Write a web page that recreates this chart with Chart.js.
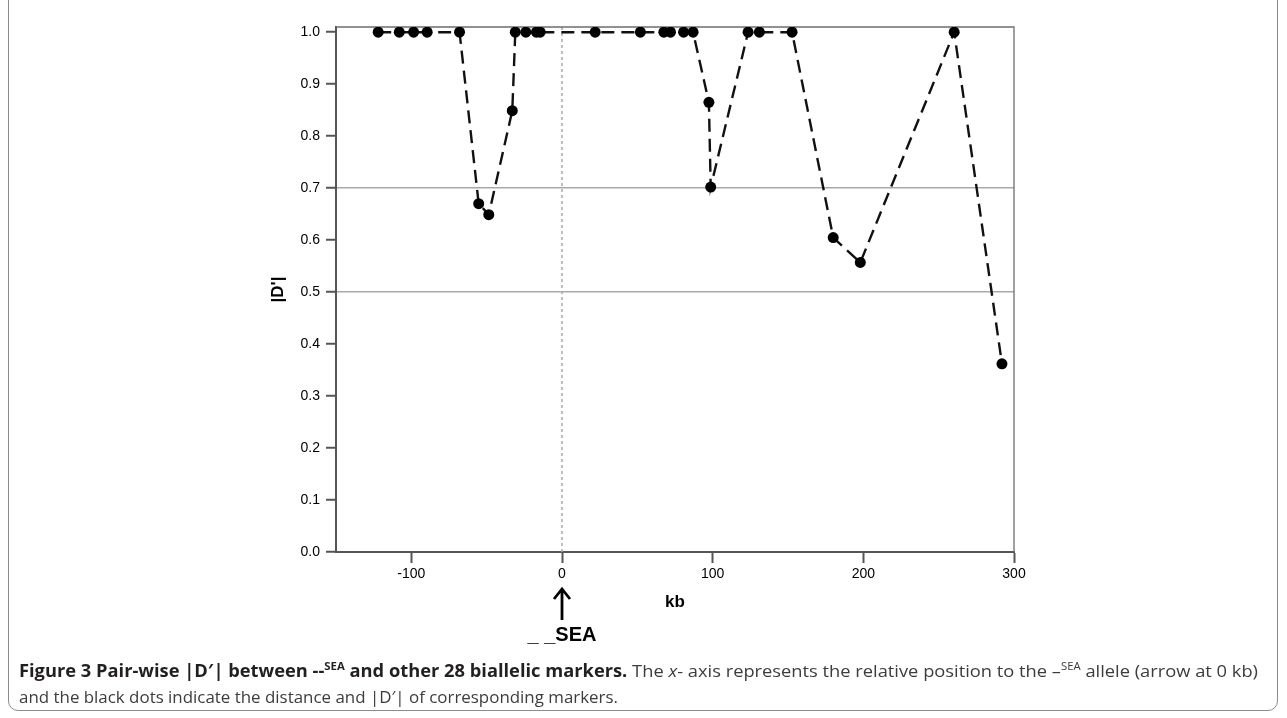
<!DOCTYPE html>
<html>
<head>
<meta charset="utf-8">
<script src="https://cdn.jsdelivr.net/npm/chart.js@4.4.1/dist/chart.umd.min.js"></script>
<style>
  html, body { margin: 0; padding: 0; background: #fff; }
  body { width: 1287px; height: 718px; position: relative; overflow: hidden; }
  #wrap { position: absolute; left: 0; top: 0; width: 1287px; height: 718px; }
  #frame { position: absolute; left: 8px; top: -12px; width: 1270px; height: 723px;
           border: 1px solid #8c8c8c; border-radius: 10px; box-sizing: border-box; }
  .cap { position: absolute; left: 19px; white-space: nowrap; font-family: "Open Sans", sans-serif;
         font-size: 17px; color: #3c3c3c; transform-origin: 0 0; }
  .cap b { color: #231f20; }
  .cap sup { font-size: 62%; line-height: 0; vertical-align: 0.65em; }
</style>
</head>
<body>
<div id="frame"></div>
<div id="wrap"><canvas id="ldChart" width="1287" height="718"></canvas></div>
<div class="cap" id="cap1" style="top:659px"><b>Figure 3 Pair-wise |D′| between --<sup>SEA</sup> and other 28 biallelic markers.</b> The <i>x</i>- axis represents the relative position to the –<sup>SEA</sup> allele (arrow at 0 kb)</div>
<div class="cap" id="cap2" style="top:685px">and the black dots indicate the distance and |D′| of corresponding markers.</div>
<script>
// posiciones (kb) y |D'| de los 27 marcadores visibles
const positions = [-122, -108, -98.5, -89.5, -68, -55.3, -48.6, -33, -31, -24, -17, -14.5,
                   22, 52, 67.6, 72, 80.7, 87, 97.5, 98.7, 123.5, 131, 152.7, 180, 198, 260.3, 292];
const dPrime = [1, 1, 1, 1, 1, 0.67, 0.649, 0.849, 1, 1, 1, 1,
                1, 1, 1, 1, 1, 1, 0.865, 0.702, 1, 1, 1, 0.605, 0.557, 1, 0.362];

const xTicks = [-100, 0, 100, 200, 300];
const yTicks = [0.0, 0.1, 0.2, 0.3, 0.4, 0.5, 0.6, 0.7, 0.8, 0.9, 1.0];
const refLines = [0.5, 0.7];   // lineas grises horizontales
const alleleAt = 0;            // posicion de la flecha --SEA

const points = positions.map((x, i) => ({ x: x, y: dPrime[i] }));

// marco del area, linea punteada en 0 y flecha con la etiqueta
const extras = {
    id: 'extras',
    beforeDatasetsDraw(chart) {
        const { ctx, chartArea: a, scales: { x } } = chart;
        const px = x.getPixelForValue(alleleAt);
        ctx.save();
        ctx.strokeStyle = '#a8a8a8';
        ctx.lineWidth = 1.5;
        ctx.setLineDash([3, 3]);
        ctx.beginPath();
        ctx.moveTo(px, a.top);
        ctx.lineTo(px, a.bottom);
        ctx.stroke();
        ctx.setLineDash([]);
        ctx.strokeStyle = '#6e6e6e';
        ctx.lineWidth = 1.3;
        ctx.beginPath();
        ctx.moveTo(a.left, a.top);
        ctx.lineTo(a.right, a.top);
        ctx.lineTo(a.right, a.bottom);
        ctx.stroke();
        ctx.restore();
    },
    afterDraw(chart) {
        const { ctx, chartArea: a, scales: { x } } = chart;
        const px = x.getPixelForValue(alleleAt);
        const top = a.bottom + 36, bottom = a.bottom + 68;
        ctx.save();
        ctx.strokeStyle = '#000';
        ctx.lineWidth = 2.8;
        ctx.lineCap = 'butt';
        ctx.lineJoin = 'miter';
        ctx.beginPath();
        ctx.moveTo(px, bottom);
        ctx.lineTo(px, top + 1);
        ctx.moveTo(px - 8, top + 11);
        ctx.lineTo(px, top + 1);
        ctx.lineTo(px + 8, top + 11);
        ctx.stroke();
        ctx.fillStyle = '#000';
        ctx.font = 'bold 20px "Liberation Sans", Arial, sans-serif';
        ctx.textAlign = 'center';
        ctx.textBaseline = 'middle';
        ctx.fillText('_ _SEA', px, a.bottom + 83);
        ctx.restore();
    }
};

const ctx = document.getElementById('ldChart').getContext('2d');
const ldChart = new Chart(ctx, {
    type: 'scatter',
    data: {
        datasets: [{
            label: "|D'|",
            data: points,
            showLine: true,
            borderColor: '#111',
            borderWidth: 2.4,
            borderDash: [13, 7],
            backgroundColor: '#000',
            pointBackgroundColor: '#000',
            pointBorderColor: '#000',
            pointRadius: 5.5,
            pointBorderWidth: 0,
            tension: 0
        }]
    },
    options: {
        responsive: false,
        animation: false,
        layout: { padding: { left: 268, right: 273, top: 27, bottom: 104 } },
        plugins: { legend: { display: false }, tooltip: { enabled: false } },
        scales: {
            x: {
                type: 'linear',
                min: -150,
                max: 300,
                afterBuildTicks: s => { s.ticks = xTicks.map(v => ({ value: v })); },
                afterFit: s => { s.height = 62; },
                grid: { color: 'transparent', drawOnChartArea: false, tickColor: '#555', tickLength: 11, tickWidth: 2 },
                border: { color: '#555', width: 2 },
                ticks: { color: '#000', padding: 3, maxRotation: 0,
                         font: { family: '"Liberation Sans", Arial, sans-serif', size: 14 } },
                title: { display: true, text: 'kb', color: '#000', padding: { top: 0, bottom: 1 },
                         font: { family: '"Liberation Sans", Arial, sans-serif', size: 17, weight: 'bold' } }
            },
            y: {
                min: 0,
                max: 1.01,
                afterBuildTicks: s => { s.ticks = yTicks.map(v => ({ value: v })); },
                afterFit: s => { s.width = 68; },
                grid: {
                    color: c => refLines.some(v => Math.abs(c.tick.value - v) < 1e-6) ? '#a9a9a9' : 'transparent',
                    lineWidth: 1.5,
                    tickColor: '#555', tickLength: 10, tickWidth: 2
                },
                border: { color: '#555', width: 2 },
                ticks: { color: '#000', padding: 6,
                         callback: v => v.toFixed(1),
                         font: { family: '"Liberation Sans", Arial, sans-serif', size: 14 } },
                title: { display: true, text: "|D'|", color: '#000', padding: 0,
                         font: { family: '"Liberation Sans", Arial, sans-serif', size: 17, weight: 'bold' } }
            }
        }
    },
    plugins: [extras]
});

// ajusta el ancho del pie de figura al de la referencia
function fitCaption(id, target) {
    const el = document.getElementById(id);
    const w = el.getBoundingClientRect().width;
    el.style.transform = 'scaleX(' + (target / w) + ')';
}
fitCaption('cap1', 1239);
fitCaption('cap2', 599);
</script>
</body>
</html>
